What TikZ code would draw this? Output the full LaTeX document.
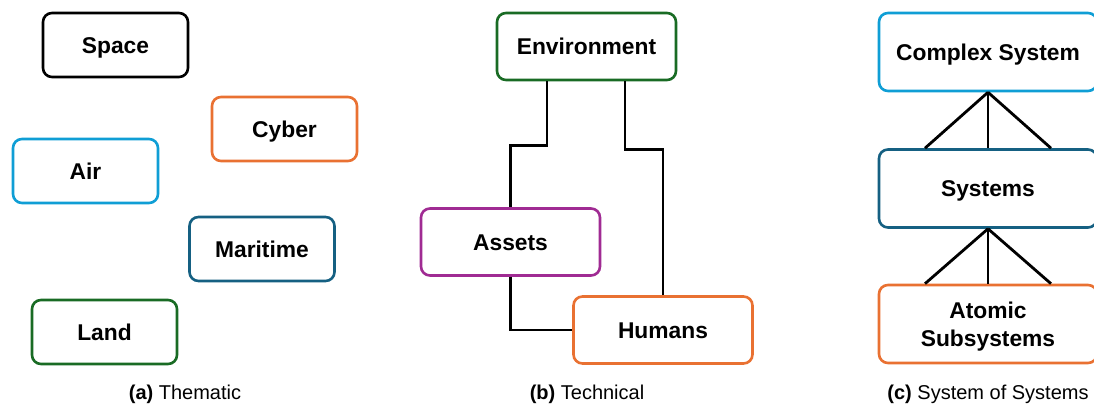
\documentclass[tikz,border=0pt]{standalone}
\usepackage{fontspec}
\setmainfont{Liberation Sans}
\usetikzlibrary{calc}

\definecolor{boxorange}{HTML}{E97132}
\definecolor{boxcyan}{HTML}{0F9ED5}
\definecolor{boxteal}{HTML}{156082}
\definecolor{boxgreen}{HTML}{196B24}
\definecolor{boxpurple}{HTML}{A02B93}

\begin{document}
\begin{tikzpicture}[x=0.5pt, y=-0.5pt,
    box/.style={draw=#1, line width=1.3pt, rounded corners=4.5pt, fill=white,
      minimum width=72.5pt, minimum height=32pt, align=center,
      font=\fontsize{11.4}{14}\selectfont\bfseries},
    onerow/.style={text height=8.2pt, text depth=0pt},
    widebox/.style={box=#1, minimum width=89.5pt, minimum height=33.5pt},
    sosbox/.style={box=#1, minimum width=109pt, minimum height=39pt},
    link/.style={draw=black, line width=1.4pt},
    caption/.style={font=\fontsize{10}{12}\selectfont}]
    \useasboundingbox (0,0) rectangle (1094,410);

    % (a) thematic
    \node[box=black, onerow] (space) at (115.5,45) {Space};
    \node[box=boxorange, onerow] (cyber) at (284.5,129) {Cyber};
    \node[box=boxcyan, onerow] (air) at (85.5,171) {Air};
    \node[box=boxteal, onerow] (maritime) at (262,249) {Maritime};
    \node[box=boxgreen, onerow] (land) at (104.5,332) {Land};
    \node[caption] (capa) at (185,394) {\textbf{(a)} Thematic};

    % (b) technical
    \node[widebox=boxgreen, onerow] (env) at (586.5,46.5) {Environment};
    \node[widebox=boxpurple, onerow] (assets) at (510.5,242) {Assets};
    \node[widebox=boxorange, onerow] (humans) at (663,330) {Humans};
    \draw[link] ($(env.south)+(-39.5,0)$) -- ++(0,64) -| (assets.north);
    \draw[link] ($(env.south)+(38.5,0)$) -- ++(0,68) -| (humans.north);
    \draw[link] (assets.south) |- (humans.west);
    \node[caption] (capb) at (587,394) {\textbf{(b)} Technical};

    % (c) system of systems
    \node[sosbox=boxcyan, onerow] (complex) at (988,52) {Complex System};
    \node[sosbox=boxteal, onerow] (systems) at (988,188.5) {Systems};
    \node[sosbox=boxorange, text height=22.2pt, text depth=0pt] (atomic) at (988,324) {Atomic\\Subsystems};
    \foreach \dx in {-63,0,63} {
        \draw[link] (complex.south) -- ($(systems.north)+(\dx,0)$);
        \draw[link] (systems.south) -- ($(atomic.north)+(\dx,0)$);
    }
    \node[caption] (capc) at (988,394) {\textbf{(c)} System of Systems};
\end{tikzpicture}
\end{document}
